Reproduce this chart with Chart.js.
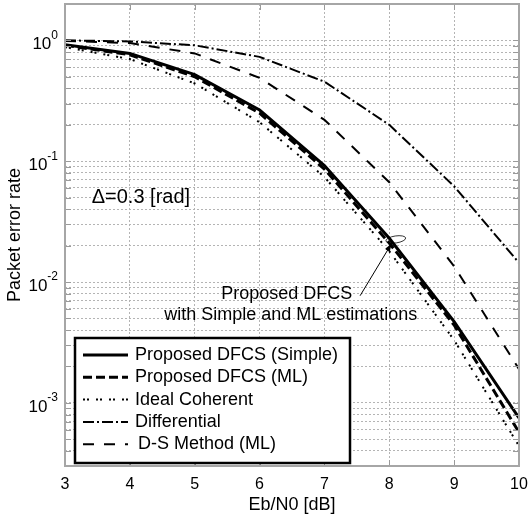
<!DOCTYPE html>
<html><head><meta charset="utf-8">
<script src="https://cdn.jsdelivr.net/npm/chart.js@4.4.1/dist/chart.umd.min.js"></script>
<style>html,body{margin:0;padding:0;background:#fff;} canvas{display:block;}</style>
</head><body>
<canvas id="c" width="528" height="518"></canvas>
<script>
// ---- data ----
const ebn0 = [3, 4, 5, 6, 7, 8, 9, 10];
const perSimple = [0.92, 0.78, 0.52, 0.265, 0.092, 0.023, 0.0047, 0.00075];
const perML     = [0.91, 0.76, 0.50, 0.25, 0.086, 0.021, 0.0044, 0.00057];
const perIdeal  = [0.88, 0.70, 0.44, 0.21, 0.074, 0.018, 0.0033, 0.00044];
const perDiff   = [1.0, 0.98, 0.91, 0.73, 0.455, 0.20, 0.062, 0.0144];
const perDS     = [0.99, 0.95, 0.78, 0.49, 0.22, 0.067, 0.0135, 0.0019];
const seriesLabels = ['Proposed DFCS (Simple)', 'Proposed DFCS (ML)', 'Ideal Coherent', 'Differential', 'D-S Method (ML)'];
const xTickValues = [3, 4, 5, 6, 7, 8, 9, 10];
const yDecades = [1, 0.1, 0.01, 0.001];
const yDecadeExp = ['0', '-1', '-2', '-3'];
const xTitle = 'Eb/N0 [dB]';
const yTitle = 'Packet error rate';
const noteDelta = 'Δ=0.3 [rad]';
const noteLines = ['Proposed DFCS', 'with Simple and ML estimations'];
// annotation anchors in data units [x, y]
const noteDeltaAt = [4.17, 0.0496];
const noteLine1At = [6.42, 0.0079];
const noteLine2At = [6.48, 0.00533];
const arrowFrom = [7.55, 0.0077];
const arrowTo = [8.04, 0.021];
const ringAt = [8.10, 0.0225];

// ---- styles ----
const FONT = '"Liberation Sans", Arial, Helvetica, sans-serif';
const seriesData = [perSimple, perML, perIdeal, perDiff, perDS];
const seriesStyle = [
  {w: 3, dash: []},
  {w: 3, dash: [9, 4]},
  {w: 2, dash: [2, 2, 2, 7]},
  {w: 2, dash: [11, 3, 2, 3]},
  {w: 2, dash: [11, 10]}
];

const datasets = seriesData.map((d, i) => ({
  label: seriesLabels[i],
  data: ebn0.map((x, j) => ({x: x, y: d[j]})),
  borderColor: '#000',
  borderWidth: seriesStyle[i].w,
  borderDash: seriesStyle[i].dash,
  pointRadius: 0,
  tension: 0,
  fill: false
}));

const deco = {
  id: 'deco',
  afterDraw(chart) {
    const {ctx, chartArea: a, scales: {x, y}} = chart;
    ctx.save();
    // inward tick marks
    ctx.strokeStyle = '#9a9a9a'; ctx.lineWidth = 1; ctx.setLineDash([]);
    y.ticks.forEach(t => {
      const py = Math.round(y.getPixelForValue(t.value)) + 0.5;
      ctx.beginPath();
      ctx.moveTo(a.left, py); ctx.lineTo(a.left + 6, py);
      ctx.moveTo(a.right, py); ctx.lineTo(a.right - 6, py);
      ctx.stroke();
    });
    x.ticks.forEach(t => {
      const px = Math.round(x.getPixelForValue(t.value)) + 0.5;
      ctx.beginPath();
      ctx.moveTo(px, a.bottom); ctx.lineTo(px, a.bottom - 6);
      ctx.moveTo(px, a.top); ctx.lineTo(px, a.top + 6);
      ctx.stroke();
    });
    // frame
    ctx.strokeStyle = '#a6a6a6'; ctx.lineWidth = 2;
    ctx.strokeRect(a.left, a.top, a.right - a.left, a.bottom - a.top);

    // y decade labels with superscript
    ctx.fillStyle = '#000';
    ctx.textAlign = 'right'; ctx.textBaseline = 'middle';
    yDecades.forEach((v, i) => {
      const py = y.getPixelForValue(v);
      const xr = a.left - 7;
      ctx.font = '12px ' + FONT;
      const ew = ctx.measureText(yDecadeExp[i]).width;
      ctx.fillText(yDecadeExp[i], xr, py - 5);
      ctx.font = '17px ' + FONT;
      ctx.fillText('10', xr - ew, py + 4);
    });

    // annotations
    ctx.textAlign = 'center';
    ctx.font = '20px ' + FONT;
    ctx.fillText(noteDelta, x.getPixelForValue(noteDeltaAt[0]), y.getPixelForValue(noteDeltaAt[1]));
    ctx.font = '18px ' + FONT;
    ctx.fillText(noteLines[0], x.getPixelForValue(noteLine1At[0]), y.getPixelForValue(noteLine1At[1]));
    ctx.fillText(noteLines[1], x.getPixelForValue(noteLine2At[0]), y.getPixelForValue(noteLine2At[1]));
    // arrow
    const x0 = x.getPixelForValue(arrowFrom[0]), y0 = y.getPixelForValue(arrowFrom[1]);
    const x1 = x.getPixelForValue(arrowTo[0]), y1 = y.getPixelForValue(arrowTo[1]);
    ctx.strokeStyle = '#000'; ctx.lineWidth = 1;
    ctx.beginPath(); ctx.moveTo(x0, y0); ctx.lineTo(x1, y1); ctx.stroke();
    const ang = Math.atan2(y1 - y0, x1 - x0);
    ctx.beginPath();
    ctx.moveTo(x1, y1);
    ctx.lineTo(x1 - 9 * Math.cos(ang - 0.3), y1 - 9 * Math.sin(ang - 0.3));
    ctx.lineTo(x1 - 9 * Math.cos(ang + 0.3), y1 - 9 * Math.sin(ang + 0.3));
    ctx.closePath(); ctx.fill();
    // ring around the bundle
    ctx.lineWidth = 0.8;
    ctx.beginPath();
    ctx.ellipse(x.getPixelForValue(ringAt[0]), y.getPixelForValue(ringAt[1]), 10, 3.5, -0.15, 0, Math.PI * 2);
    ctx.stroke();

    // legend box
    const lx = a.left + 10, ly = a.bottom - 128, lw = 275, lh = 125;
    ctx.fillStyle = '#fff';
    ctx.fillRect(lx, ly, lw, lh);
    ctx.strokeStyle = '#000'; ctx.lineWidth = 2.5; ctx.setLineDash([]);
    ctx.strokeRect(lx, ly, lw, lh);
    ctx.font = '18px ' + FONT; ctx.textAlign = 'left'; ctx.textBaseline = 'middle';
    seriesLabels.forEach((lab, i) => {
      const ry = ly + 17 + i * 22.3;
      ctx.strokeStyle = '#000';
      ctx.lineWidth = seriesStyle[i].w;
      ctx.setLineDash(seriesStyle[i].dash);
      ctx.beginPath(); ctx.moveTo(lx + 8, ry); ctx.lineTo(lx + 53, ry); ctx.stroke();
      ctx.setLineDash([]);
      ctx.fillStyle = '#000';
      ctx.fillText(lab, lx + 60 + (i === 4 ? 3 : 0), ry);
    });
    ctx.restore();
  }
};

new Chart(document.getElementById('c'), {
  type: 'line',
  data: {datasets: datasets},
  plugins: [deco],
  options: {
    responsive: false,
    animation: false,
    events: [],
    layout: {padding: {top: 4, right: 0, left: 0, bottom: 0}},
    plugins: {legend: {display: false}, tooltip: {enabled: false}},
    scales: {
      x: {
        type: 'linear', min: 3, max: 10,
        afterBuildTicks: s => { s.ticks = xTickValues.map(v => ({value: v})); },
        afterFit: s => { s.height = 52; s.paddingRight = 9; s.paddingLeft = 0; },
        ticks: {color: '#000', font: {size: 16, family: FONT}, padding: 9, maxRotation: 0, autoSkip: false},
        grid: {color: '#b4b4b4', lineWidth: 1, drawTicks: false},
        border: {display: false, dash: [2, 2]},
        title: {display: true, text: xTitle, color: '#000', font: {size: 18, family: FONT}, padding: {top: 0, bottom: 2}}
      },
      y: {
        type: 'logarithmic', min: 3e-4, max: 2,
        afterBuildTicks: s => {
          const t = [];
          for (let e = -4; e <= 0; e++) for (let m = 1; m <= 9; m++) {
            const v = m * Math.pow(10, e);
            if (v >= s.min * 0.999 && v <= s.max * 1.001) t.push({value: v});
          }
          s.ticks = t;
        },
        afterFit: s => { s.width = 65; },
        ticks: {display: false},
        grid: {color: '#b4b4b4', lineWidth: 1, drawTicks: false},
        border: {display: false, dash: [2, 2]},
        title: {display: true, text: yTitle, color: '#000', font: {size: 18, family: FONT}, padding: {top: 4, bottom: 0}}
      }
    }
  }
});
</script>
</body></html>
